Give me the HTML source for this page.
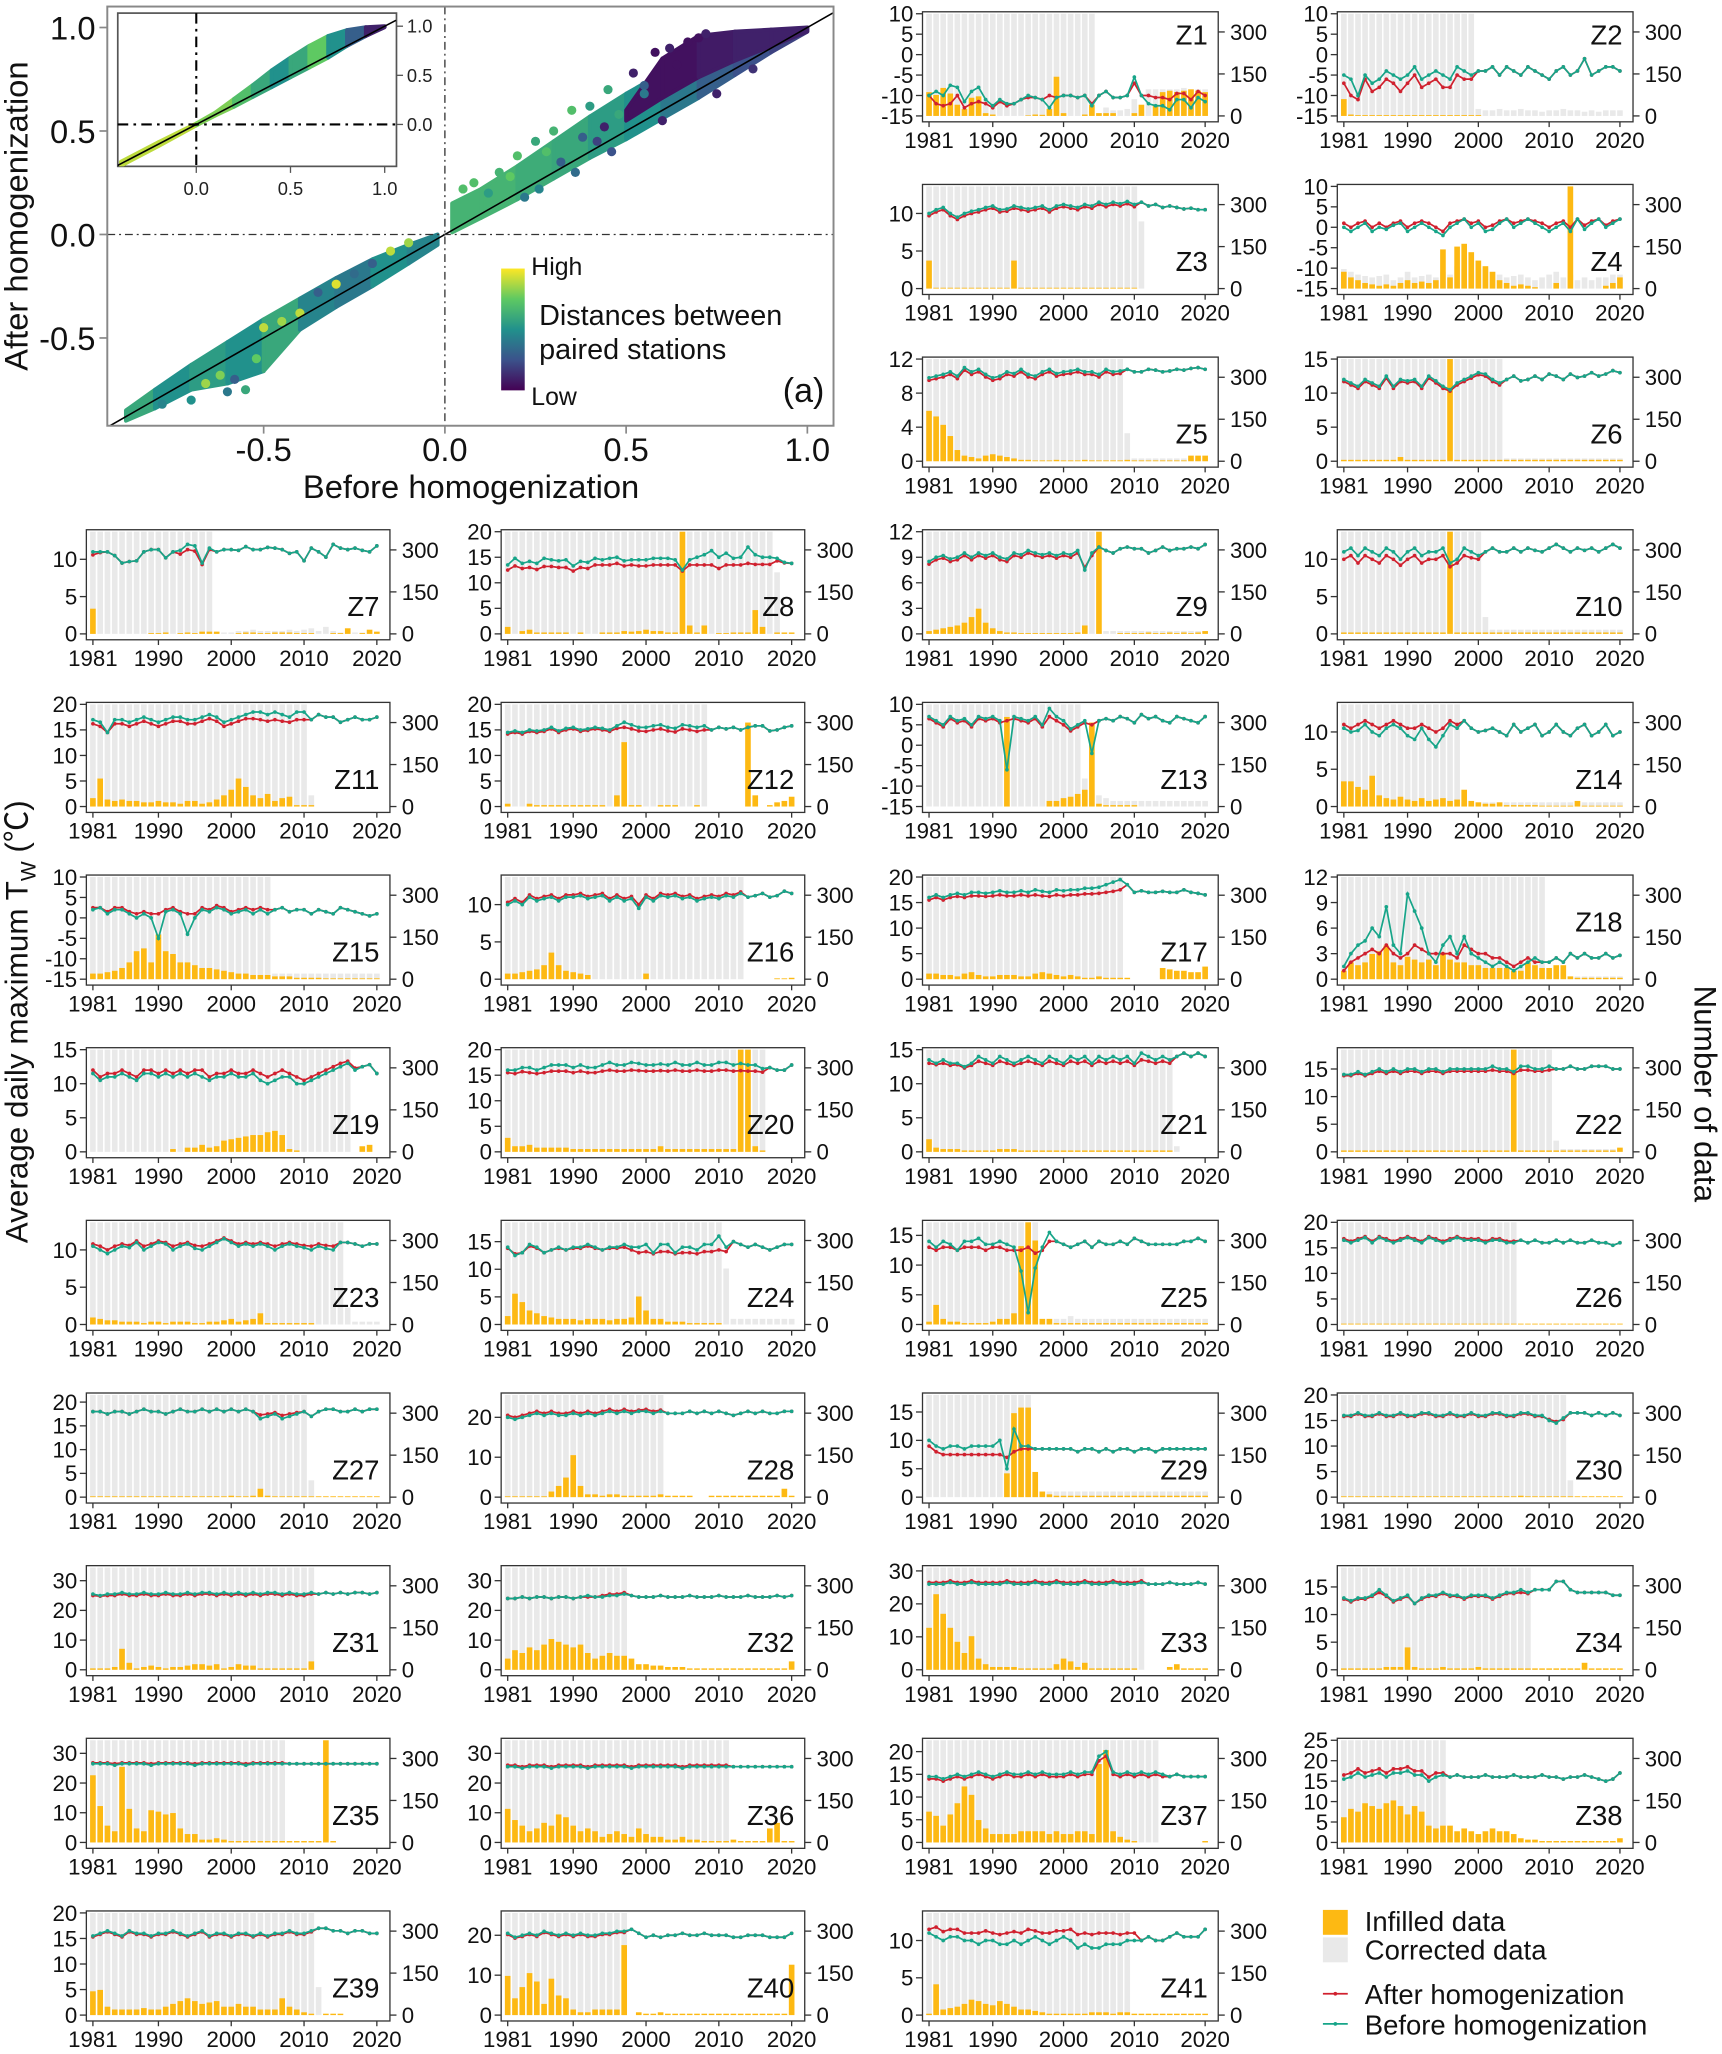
<!DOCTYPE html>
<html><head><meta charset="utf-8"><title>Homogenization figure</title>
<style>
html,body{margin:0;padding:0;background:#fff;}
svg{display:block;font-family:"Liberation Sans","Noto Sans CJK SC",sans-serif;}
</style></head>
<body>
<svg id="fig" xmlns="http://www.w3.org/2000/svg" width="1722" height="2054" viewBox="0 0 1316 1568" preserveAspectRatio="none"></svg>
<script>
const F = 365;
const panelNames = ["Z1","Z2","Z3","Z4","Z5","Z6","Z7","Z8","Z9","Z10","Z11","Z12","Z13","Z14","Z15","Z16","Z17","Z18","Z19","Z20","Z21","Z22","Z23","Z24","Z25","Z26","Z27","Z28","Z29","Z30","Z31","Z32","Z33","Z34","Z35","Z36","Z37","Z38","Z39","Z40","Z41"];
const yMin = [-15,-15,0,-15,0,0,0,0,0,0,0,0,-15,0,-15,0,0,0,0,0,0,0,0,0,0,0,0,0,0,0,0,0,0,0,0,0,0,0,0,0,0];
const yMax = [10,10,13.6,10,12,15,13.7,20,12,13.7,20,20,10,13.7,10,13.7,20,12,15,20,15,18.5,13.7,18.5,17.2,20,21.5,25.6,18,20,34.4,34.4,31,18.5,34.4,34.4,22.5,25,20,25.6,13.7];
const yTicks = [
[-15,-10,-5,0,5,10],[-15,-10,-5,0,5,10],[0,5,10],[-15,-10,-5,0,5,10],[0,4,8,12],[0,5,10,15],
[0,5,10],[0,5,10,15,20],[0,3,6,9,12],[0,5,10],
[0,5,10,15,20],[0,5,10,15,20],[-15,-10,-5,0,5,10],[0,5,10],
[-15,-10,-5,0,5,10],[0,5,10],[0,5,10,15,20],[0,3,6,9,12],
[0,5,10,15],[0,5,10,15,20],[0,5,10,15],[0,5,10,15],
[0,5,10],[0,5,10,15],[0,5,10,15],[0,5,10,15,20],
[0,5,10,15,20],[0,10,20],[0,5,10,15],[0,5,10,15,20],
[0,10,20,30],[0,10,20,30],[0,10,20,30],[0,5,10,15],
[0,10,20,30],[0,10,20,30],[0,5,10,15,20],[0,5,10,15,20,25],
[0,5,10,15,20],[0,10,20],[0,5,10]];
const countTicks = [0,150,300];
const yearTicks = [1981,1990,2000,2010,2020];

// before-homogenization series (green)
const beforeVals = [
[-10,-9,-10,-7.5,-8,-11.5,-9,-8,-11,-12.5,-11,-12,-12,-11,-10,-10.5,-11,-13,-10.5,-10,-10,-10.5,-10,-12.5,-10,-9,-10.5,-10.5,-10,-5.5,-10,-12,-12.5,-12.5,-13.5,-11,-11,-13,-10.5,-11.5],
[-5,-6,-10,-5,-7,-6,-4,-5,-6,-5,-3,-6,-5,-4,-5,-6,-3,-4,-5,-4,-4,-3,-5,-3,-4,-5,-3,-4,-5,-6,-4,-3,-5,-4,-1,-5,-4,-3,-3,-4],
[10,10.5,10.8,10,9.5,10,10.3,10.5,10.8,11,10.5,10.6,11,10.8,10.6,10.8,11,10.5,11,11.2,11,10.8,11.2,11,11.5,11.2,11.5,11.3,11.6,11.2,11.5,11,11.2,10.8,11,10.8,10.6,10.7,10.5,10.5],
[0,-1,0,1,-1,0,-0.5,0.5,1,-1,0,1,0,-1,-2,0,1,2,0,1,-1,-0.5,1,2,0,1,2,1,0,-1,0,1,-1,2,-0.5,1,2,0,1,2],
[9.8,10,10.2,10.5,10,11,10.5,10.8,10.2,9.8,10,10.5,10.3,10.8,10.2,10,10.5,10.8,10.3,10.5,10.6,10.8,10.5,10.5,10.2,10.8,10.5,10.6,10.8,10.5,10.5,10.8,10.7,10.5,10.6,10.8,10.7,10.9,11,10.8],
[12,11.5,11,12,11.5,11,12.5,11,12,11.8,12,11,12.5,11.8,11,10.5,11.5,12,12.5,13,12.8,12,11.5,12,12.5,11.8,12,12.5,12,12.8,12.5,12,12.8,12.3,12.5,13,12.5,12.8,13.3,13],
[11,11,11,10.5,9.5,9.7,9.8,11,11.3,11.3,10.2,11,11.2,12,11.8,9.5,11.5,11,11.3,11.3,11.2,11.7,11.3,11.3,11.6,11.5,11.3,10.8,11,9.8,11.5,11,10.3,12,11.5,11.3,11.5,11.2,11,11.8],
[13.5,14.8,13.8,14.2,13.8,14.8,14.5,14.3,14.5,13.3,14.2,14,14.8,14.5,14.8,15,14.3,14.5,14.5,14.5,14.8,14.8,14.8,14.5,12.5,14.5,15,15.5,16.3,15,15.8,14.8,15,17,15.5,15,15,14.8,14,13.8],
[8.5,9,9.2,8.8,9,9.5,9,9.5,9.2,9.5,9,8.8,9.5,9.3,9.8,9.5,9.3,9.5,9.2,9.5,9.3,9.8,7.5,9.5,10.2,9.8,9.5,10,10.2,10,10,9.5,9.8,10.2,9.8,10,10,10.2,10,10.5],
[11,11.5,10.5,11.5,11,10.5,11.5,11,10,11,11.5,10.5,11,11,11.5,9.5,10,11.5,11,10.5,11,11.5,11,11,11.5,11,11.5,11.2,11,11.5,12,11.5,11,11.5,11.2,11.5,11,11.5,12,11.5],
[17,16.5,14.5,17,17,16.5,17,17.5,17,16.5,17,17.5,17.5,17,17,17.5,18,17.5,16.5,17,17.5,18,18.5,18.5,18,18.5,18,17.5,18.5,18.5,17,18,17.5,17.5,16.5,17,17.5,17,17,17.5],
[14.5,14.8,14.5,15,14.8,15,15.5,14.8,15.3,15.5,15,15.2,15.5,15.3,15,15.8,16.5,16,15.5,15.5,15.8,16,15.5,15.3,16,15.8,15.5,15.8,15,15.5,15.2,15.5,15,15.5,15.8,15.8,14.8,15,15.5,15.8],
[7,6,5,7,6,6.5,5,7,6.5,7,6,-6,7,6.5,6,7,5,9,7,6,4,5,6,-2,6,6.5,6,7,6.5,5.5,7.5,6.5,7,6,5.5,7,6.5,6,5.5,7],
[10.5,10,10.2,11,10,9.5,10.5,11,10.5,9.5,9,10.5,9,8,9.5,11,10.5,11.5,10.5,10,10.2,10.5,10,9.5,11,10,10.5,11,9.5,10,11,10,9.5,10.5,11,9.5,10,11,9.5,10],
[2,2.5,1,2,2,1,0,1,0,-5,1.5,2,1,-4,0,2,1.5,2.5,2,1,1.5,2,1,2,1,2,2.5,1.5,2,2,1,2,1.5,1,2.5,2,1.5,1,0.5,1],
[10,10.5,10,11,10.5,10.8,11,10.5,11,11,11.2,10.8,11,11.2,10.5,11,10.5,10.8,9.5,11,10.5,11.2,11,11.2,10.8,11,10.5,10.8,11,10.8,11.2,11,11.5,11,11.2,11.5,11,11.2,11.8,11.5],
[16,16.5,16,16.5,16.8,16.5,17,17,16.8,17,17.3,17,17,17.3,17,17.5,17.2,17,17.5,17.3,17.5,17.5,17.8,17.8,18,18.5,19,19.5,18.5,17,17.3,17,17,17.2,17,17,17.5,17,16.8,16.5],
[1.5,3,4,4.5,6,5,8.5,4,3,10,8,6,3,2,4,5,3,5,3,2.5,2,1.5,2,1.5,1,1.5,2,2.5,2,2,2.5,2,3,2.5,3,2.5,2.5,3,2.5,2.8],
[11.5,10.5,11,11,11.5,11,10.5,11.5,11.5,11,11.5,11,11.5,11,11.5,11,10.5,11,11,11.5,11,11,11.5,10.5,10,10.5,11,11,10,10,10.5,11,11.5,12,12.5,13,12,12.5,12.8,11.5],
[16,16,16.5,16.5,16,16.5,17,17,17,16.5,17,16.5,16.5,17,17.5,17,17,17.5,17.3,17,17,17.2,17,17.5,17,17,17.5,17,17,17.5,17.5,17,17.3,17,17,16.3,16.5,16,16,17],
[13.5,13,13.5,13,13,12.5,13,14,13.5,13,14,13.5,13,13.5,14,13.5,13,14,13.5,13,14,13.5,14,13,14,13.5,14,13.5,14,13,14.5,14,13.5,14,13.5,14,14.5,14,14.5,14],
[14,14,14.5,14,14.5,15,14.5,15,14.5,15,15,14.5,15,15,14.5,15,15,15,15,15,15,15.5,15,15,14.5,15.5,15.5,15,15,15.5,15,15,15.5,15,15,15.5,15.5,15.5,15,15],
[10.5,10,9.5,10,10.5,10.3,11,10,10.5,11,10.8,10,10.5,10.8,10.2,10,10.5,11,11.5,11,10.5,10.8,10.5,10.8,10.5,10,10.5,10.8,10.5,10.3,10,10.5,10.2,10,11,11,10.8,10.5,10.8,10.8],
[14,12.5,13,14.5,14,13,13.5,14,13.5,14,14,14.5,14,13.5,14,14,14.5,14,14,14.5,13,14.5,14.5,13,14,14,13.5,14.5,14.5,16,14,15,14.5,14,14.5,14,13.5,14,14.5,14.5],
[14,13,14,13.5,12.5,14,14,14.5,13.5,13.5,14,13.5,13,9,2,9.5,13,15.5,14,13.5,13,13.5,14,13,14,13.5,13.5,14,13.5,14.5,14,13.5,13.5,13.5,13.5,13.5,14,14,14.5,14],
[16.5,16,16.5,17,16,17,16.5,16,16.5,17,16.5,16,17,16.5,16,16.5,17,16.5,16.5,16.5,16,16.5,16.5,16,16,16.5,16,16.5,16,16,16.5,16,16.5,16,16,16.5,16,16,15.5,16],
[18,18,17.5,18,18,17.5,18,18.5,18,18,17.5,18,18.5,18,18,18.5,18,18.5,18,18.5,18,18.5,18,16.5,17,17.5,16.5,17,17.5,18,17,18,18.5,18.5,18,18,18.5,18,18.5,18.5],
[20,19.5,20,20.5,21,20.5,21,20.5,20.5,21,20.5,21,20.5,21,21.5,21,21.5,21,21.5,21.5,21,21.5,21,21,21,21.5,21,21.5,21,21.5,21,20.5,21,21.5,21,21.5,21,21,21.5,21.5],
[10,9,8.5,9,9,8.5,9,9,9,9,10,5,12,9,9,8.5,8.5,8.5,8.5,8.5,8.5,8,8.5,8.5,8,8.5,8,8.5,8.5,8,8.5,8.5,8,8.5,8.5,8.5,8.5,8.5,8.5,8.5],
[16,16,16.5,16,16,16.5,16,16,16.5,16,16,16.5,16.5,16,16,16.5,16,16,16.5,16,16,16.5,16.5,16,16,16.5,16.5,16,16,15,14.5,15.5,16.5,16.5,16.5,16,16.5,16,16.5,16],
[25.5,25,25.5,25.5,26,25.5,25.5,26,25.5,25.5,26,25.5,25.5,26,25.5,26,26,25.5,26,25.5,26,25.5,26,25.5,26,26,25.5,26,25.5,25.5,26,25.5,26,25.5,26,25.5,26,26,25.5,26],
[24,24,24.5,24,24.5,24.5,24,24.5,24.5,24,24.5,25,24.5,24.5,25,25,25.5,25,24.5,24.5,24.5,25,24.5,24.5,24.5,25,24.5,24.5,24.5,25,24.5,24.5,24.5,25,24.5,24.5,24.5,25,24.5,25],
[26,26,26,26.5,26,26,26.5,26,26,26,26,26.5,26,26,26,26.5,26,26,26.5,26,26,26,26.5,26,26,26,26.5,26,26,26,26.5,26,26,26,26.5,26,26,26,26.5,26],
[13,12.5,13,13,13.5,14.5,13.5,12.5,13,13.5,12,13,13.5,13.5,14,13.5,13.5,13,13.5,13.5,13.5,13,13.5,14,14,14.5,14,14.5,14.5,14.5,16,16,14.5,14,14,14,14,14,13.5,13.5],
[26.5,26.5,26.5,26,26.5,26.5,26.5,26.5,26,26.5,26.5,26.5,26.5,26.5,26,26.5,26.5,26.5,26.5,26.5,26.5,26,26.5,26.5,26.5,26.5,26.5,26.5,26.5,26.5,26.5,26.5,26.5,26.5,26.5,26.5,26.5,26.5,26.5,26.5],
[25.5,25.5,25,25.5,25.5,25.5,25,25.5,25.5,25.5,25.5,25,25.5,25.5,25.5,25.5,25.5,25,25.5,25.5,25.5,25.5,25.5,25.5,25,25.5,25.5,25.5,25.5,25.5,25.5,25.5,25.5,25.5,25.5,25.5,25.5,25.5,25.5,25.5],
[14.5,14.5,14,14.5,15,14.5,15,15.5,15,14.5,15,15.5,15,15,15.5,15,15.5,15,15,15,15.5,15,15.5,15.5,19,20,15.5,15,15.5,15,15.5,15,15.5,15,14.5,15,14.5,14.5,14.5,14.5],
[15.5,16,17,16,16.5,17,16,17,17,17.5,16.5,16.5,15,16,16.5,16,16.5,16,16,16,16.5,16,16,16,16.5,16,16,16,16.5,16,16,15.5,16,16,16.5,16,15.5,15,15.5,17],
[15.5,16,16.5,16,15.5,16.5,16,16,15.5,16,16,16.5,16,15.5,16,16.5,15.5,16,16,15.5,16,16,15.5,16,15.5,16,16,16.5,16,16,16.5,17,17,16.5,16.5,16,16.5,16.5,16,16],
[20.5,19.5,20,20.5,20,21,20.5,20,20.5,20,20.5,20,20,20.5,20.5,21,21,21.5,20.5,19.5,20,19.5,20,20,20.5,20,20,20.5,20,20,20,19.5,19.5,20,20,20,19.5,19.5,19.5,20.5],
[11,10.5,10,10.5,10.5,10,10,9.5,10,10,9.5,9.5,10,9.5,10,10.5,10,9.5,10,10.5,10,9,9.5,9,9,9.5,9.5,9.5,10,10,10,10.5,10,10,10.5,11,10.5,10.5,10.5,11.5]];

// after-homogenization series (red); years beyond the listed values coincide with the before series
const afterVals = [
[-10,-12,-12.5,-12,-10,-13,-12,-11.5,-12,-13,-11.5,-12.5,-12,-11,-10.5,-10.5,-11,-10,-10.5,-10,-10,-10.5,-10,-12,-10,-9,-10.5,-10.5,-10,-7,-10,-10,-10.5,-10.5,-11,-9.5,-9.5,-11,-9,-10],
[-7,-10,-11,-6,-9,-8,-6,-7,-9,-7,-5,-8,-7,-6,-8,-8,-5,-6,-6,-4],
[9.7,10.2,10.5,9.7,9.2,9.7,10,10.2,10.5,10.7,10.2,10.3,10.7,10.5,10.3,10.5,10.7,10.2,10.7,10.9,10.7,10.5,10.9,10.7,11.2,10.9,11.2,11,11.3,10.9],
[1,0,1,1.5,0,1,0,1,1.5,0,1,1.5,1,0,-1,1,1.5,2,1,1.5,0,0.5,1.5,2,1,1.5,2,1.5,1,0,1,1.5,0,2,0.5,1.5,2,0.5,1.5,2],
[9.5,9.7,9.9,10.2,9.7,10.7,10.2,10.5,9.9,9.5,9.7,10.2,10,10.5,9.9,9.7,10.2,10.5,10,10.2,10.3,10.5,10.2,10.2,9.9,10.5,10.2,10.3],
[11.7,11.2,10.7,11.7,11.2,10.7,12.2,10.7,11.7,11.5,11.7,10.7,12.2,11.5,10.7,10.3,11.2,11.7,12.2,12.7,12.5,11.7,11.2],
[10.6,10.9,11,10.5,9.5,9.7,9.8,11,11.3,11.3,10.2,11,10.7,11.3,11.1,9.3,11.3],
[12.5,13.3,12.8,13,12.6,13.2,13.2,13,13,12.3,13,12.8,13.5,13.5,13.5,13.8,13.3,13.5,13.3,13.3,13.5,13.5,13.5,13.5,12.3,13.5,13.5,13.5,13.5,12.8,13.5,13.5,13.5,13.8,13.6,13.6,13.6,14.3,13.9,13.8],
[8.2,8.7,8.9,8.5,8.7,9.2,8.7,9.2,8.9,9.2,8.7,8.5,9.2,9,9.5,9.2,9,9.2,8.9,9.2,9,9.5,7.8,9.2],
[10,10.5,9.5,10.5,10,9.5,10.5,10,9.2,10,10.5,9.5,10,10,10.5,9,9.5,10.5,10.2,10],
[16.2,15.7,14.5,16.2,16.2,15.7,16.2,16.7,16.2,15.7,16.2,16.7,16.7,16.2,16.2,16.7,17.2,16.7,15.7,16.2,16.7,17.2,17.2,17,16.7,17,16.7,16.5,17,17],
[14.2,14.5,14.2,14.7,14.5,14.7,15.2,14.5,15,15.2,14.7,14.9,15.2,15,14.7,15.3,15.5,15.2,14.8,14.7,15,15.2,14.8,14.6,15.2,15,14.7,15],
[6.5,5.5,4.5,6.5,5.5,6,4.5,6.5,6,6.5,5.5,6,6.5,6,5.5,6.5,4.5,7,6,5,3.5,4.5,5.5,5],
[11,10.5,11,11.5,11,10.5,11,11.5,11,10.5,10.5,11,10.5,10,10.5,11.5,11],
[2.5,2.5,1.5,2.5,2.5,1.5,1,1.5,1,1,2,2.5,1.5,1,1,2.5,2,3,2.5,1.5,2,2.5,2,2.5,2],
[10.3,10.8,10.3,11.3,10.8,11.1,11.3,10.8,11.3,11.3,11.5,11.1,11.3,11.5,10.8,11.3,10.8,11.1,10,11.3,10.8,11.5,11.3,11.5,11.1,11.3,10.8,11.1,11.3,11.1,11.5,11.3,11.7],
[15.5,16,15.5,16,16.2,16,16.3,16.3,16.2,16.3,16.5,16.3,16.3,16.5,16.3,16.5,16.3,16.2,16.5,16.3,16.5,16.5,16.7,16.7,16.8,17,17.2,17.5],
[1,2,2.5,3,3.5,3,4,3,2.5,3,4,3.5,3,3,3,3,2.5,4,3.5,3,3,2.5,2.5,2,1.5,2,2.5,2,2,2],
[12,11,11.5,11.5,12,11.5,11,12,12,11.5,12,11.5,12,11.5,12,12,11,11.5,11.5,12,11.5,11.5,12,11.5,11,11.5,12,11.5,11,10.5,11,11.5,12,12.5,13,13.3,12.3],
[15.5,15.3,15.7,15.5,15.3,15.5,15.8,15.8,15.8,15.5,15.8,15.5,15.5,15.8,16,15.8,15.8,16,15.9,15.8,15.8,15.9,15.8,16,15.8,15.8,16,15.8,15.8,16,16,15.8,15.9,15.8,15.8,15.6],
[13,12.8,13,12.7,12.8,12.3,12.7,13.3,13,12.7,13.3,13,12.7,13,13.3,13,12.7,13.3,13,12.7,13.3,13,13.3,12.7,13.3,13,13.3,13,13.3,12.7,13.5,13.3,13,13.3,13],
[13.8,13.8,14.2,13.8,14.2,14.6,14.2,14.6,14.2,14.6,14.6,14.2,14.6,14.6,14.2,14.6,14.6,14.6,14.6,14.6,14.6,14.8,14.6,14.6,14.2,14.8,14.8,14.6,14.6,14.8],
[10.8,10.5,10,10.5,10.8,10.6,11.2,10.5,10.8,11.2,11,10.5,10.8,11,10.6,10.5,10.8,11.2,11.6,11.2,10.8,11,10.8,11,10.8,10.5,10.8,11,10.8,10.6,10.5,10.8,10.6,10.5,11],
[13.8,12.8,13,14.2,13.8,13,13.5,13.8,13.5,13.8,13.8,14.2,13.8,13.5,13.8,13.8,14,13.5,13,13.2,12.8,13.2,13.2,12.8,13,13,12.8,13.2,13.2,13.5,13.2],
[13,12.5,13,13,12.5,13,13,13,12.5,13,13,12.5,12.5,12.5,13,12,12.5,14],
[16.8,16.3,16.8,17.2,16.3,17.2,16.8,16.3,16.8,17.2,16.8,16.3,17.2,16.8,16.3,16.8,17.2,16.8,16.8,16.8,16.3,16.8,16.8,16.3,16.3],
[18,18,17.5,18,18,17.5,18,18.5,18,18,17.5,18,18.5,18,18,18.5,18,18.5,18,18.5,18,18.5,18,17.3,17.5,17.8,17.2,17.5,17.8,18],
[20.5,20,20.5,21,21.5,21,21.5,21,21,21.5,21,21.5,21,21.5,22,21.5,22,21.5,21.8,22,21.5,21.8],
[9,8,7.5,7.5,7.5,7.5,7.5,7.5,7.5,7.5,7.5,7,8,8.5,8.5,8.5],
[15.8,15.8,16.3,15.8,15.8,16.3,15.8,15.8,16.3,15.8,15.8,16.3,16.3,15.8,15.8,16.3,15.8,15.8,16.3,15.8,15.8,16.3,16.3,15.8,15.8,16.3,16.3,15.8,15.8,15.2,14.8,15.2],
[25,24.8,25,25,25.5,25,25,25.5,25,25,25.5,25,25,25.5,25,25.5,25.5,25,25.5,25,25.5,25,25.5,25,25.5,25.5,25,25.5,25,25,25.5],
[24,24,24.5,24,24.5,24.5,24,24.5,24.5,24,24.5,24.5,24.5,25,25.5,25.5,26],
[26.5,26.5,26.5,27,26.5,26.5,27,26.5,26.5,26.5,26.5,27,26.5,26.5,26.5,27,26.5,26.5,27,26.5,26.5,26.5,27,26.5,26.5,26.5,27,26.5,26.5,26.5,27],
[12.8,12.3,12.8,12.8,13.3,14,13.3,12.3,12.8,13.3,12,12.8,13.3,13.3,13.8,13.3,13.3,12.8,13.3,13.3,13.3,12.8,13.3,13.8,13.8,14,13.8],
[26.8,26.8,26.8,26.5,26.8,26.8,26.8,26.8,26.5,26.8,26.8,26.8,26.8,26.8,26.5,26.8,26.8,26.8,26.8,26.8,26.8,26.5,26.8,26.8,26.8,26.8,26.8],
[26,26,25.5,26,26,26,25.5,26,26,26,26,25.5,26,26,26,26,26,25.5,26,26,26,26,26,26,25.5,26,26,26,26,26,26],
[14,14,13.5,14,14.5,14,14.5,15,14.5,14,14.5,15,14.5,14.5,15,14.5,15,14.5,14.5,14.5,15,14.5,15,15,18,19,15,14.5,15,14.5,15,14.5,15,14.5],
[16.5,17,18,17,17.5,18,17,18,18,18.5,17.5,17.5,16,17,17],
[15.3,15.8,16.3,15.8,15.3,16.3,15.8,15.8,15.3,15.8,15.8,16.3,15.8,15.3,15.8,16.3,15.3,15.8,15.8,15.3,15.8,15.8,15.3,15.8,15.3,15.8,15.8,16.3,15.8,15.8,16.3],
[20.2,19.3,19.7,20.2,19.7,20.7,20.2,19.7,20.2,19.7,20.2,19.7,19.7,20.2,20.2,20.7,20.7],
[11.5,11.8,11.2,11.5,11.5,11,11,11,11.3,11,10.8,11,11.2,11,11.5,11.3,11,11,11.3,11.3,11.5,10.8,11,10.8,11,11,11,10.8,11,11]];

// infilled data counts (orange bars)
const infilled = [
[85,75,100,80,40,25,65,70,10,5,0,0,0,0,2,5,4,25,140,10,0,0,5,40,10,10,10,0,0,10,40,0,40,85,90,85,90,95,90,85],
[60,5,3,3,3,3,3,3,3,3,3,3,3,3,3,3,3,3,3,3,0,0,0,0,0,0,0,0,0,0,0,0,0,0,0,0,0,0,0,0],
[100,3,3,3,3,3,3,3,3,3,3,3,100,3,3,3,3,3,3,3,3,3,3,3,3,3,3,3,3,3,0,0,0,0,0,0,0,0,0,0],
[60,40,30,20,15,10,15,10,20,30,20,25,20,30,140,40,150,160,130,100,80,60,30,20,10,15,10,5,0,0,20,0,365,0,0,0,0,10,20,40],
[180,160,130,90,40,20,15,10,20,25,20,15,10,5,5,3,3,3,5,3,3,3,5,3,3,3,3,3,5,3,3,3,3,3,3,3,3,20,20,20],
[5,5,5,5,5,5,5,5,15,5,5,5,5,5,5,365,5,5,5,5,5,5,5,5,5,5,5,5,5,5,5,5,5,5,5,5,5,5,5,5],
[90,0,0,0,0,0,0,0,3,3,5,0,3,5,3,8,8,8,0,0,3,5,5,3,3,5,5,5,3,3,3,0,0,3,3,20,0,3,15,8],
[25,0,10,15,5,5,5,5,5,0,5,0,0,5,5,5,10,8,10,15,10,10,5,5,365,30,5,30,0,3,3,5,5,5,85,25,0,5,5,5],
[10,15,20,25,30,40,60,90,40,20,10,5,5,3,3,3,3,3,3,3,3,5,30,0,365,0,0,3,3,3,3,5,3,3,5,3,5,3,5,10],
[5,5,5,5,5,5,5,5,5,5,5,5,5,5,5,365,5,5,5,5,5,5,5,5,5,5,5,5,5,5,5,5,5,5,5,5,5,5,5,5],
[30,100,25,20,25,20,20,15,15,20,15,15,10,20,20,10,15,25,40,60,100,70,40,30,45,20,30,35,5,5,5,0,0,0,0,0,0,0,0,0],
[10,0,0,10,5,5,5,5,5,5,5,5,5,5,0,40,230,5,5,0,0,5,5,5,0,0,5,0,0,0,0,0,0,300,40,0,5,15,20,35],
[0,0,0,0,0,0,0,0,0,0,0,320,0,0,0,0,0,20,20,30,35,45,60,300,10,5,5,5,5,5,0,0,0,0,0,0,0,0,0,0],
[90,90,70,60,110,40,30,25,35,25,20,30,20,25,30,20,25,60,20,15,10,10,15,5,5,5,5,5,3,3,3,3,3,20,3,3,3,3,3,3],
[20,20,25,30,40,60,100,110,60,160,100,90,60,60,50,40,40,35,30,25,20,20,15,15,15,10,10,10,5,5,5,5,3,3,3,3,3,3,3,3],
[20,20,25,30,35,50,95,50,30,25,20,15,0,0,0,0,0,0,0,20,0,0,0,0,0,0,0,0,0,0,0,0,0,0,0,0,0,3,3,5],
[20,20,15,15,10,20,25,15,10,10,15,15,15,10,10,20,25,20,15,10,15,10,5,5,10,5,5,5,5,0,0,0,0,40,35,30,30,25,25,45],
[30,60,50,60,90,100,120,60,50,80,70,60,70,50,90,70,60,60,50,50,40,40,40,40,30,30,60,50,40,40,50,50,10,5,5,5,5,5,5,5],
[0,0,0,0,0,0,0,0,0,0,0,10,0,15,15,25,15,20,40,45,50,55,60,60,70,75,60,10,5,0,0,0,0,0,0,0,0,20,25,0],
[50,20,20,25,15,15,15,15,15,10,10,10,10,10,10,10,10,10,10,10,10,20,10,10,10,10,10,10,10,10,10,10,365,365,20,5,0,0,0,0],
[45,15,10,10,10,5,5,5,5,5,10,10,10,5,5,5,5,5,5,5,5,5,5,5,5,5,5,5,5,5,5,5,5,5,5,0,0,0,0,0],
[5,5,5,5,5,5,5,5,5,5,5,5,5,5,5,5,5,5,5,5,5,5,5,5,365,5,5,5,5,5,5,5,5,5,5,5,5,5,5,15],
[25,20,15,15,10,10,10,5,10,10,5,10,10,10,5,5,10,10,15,20,10,15,20,40,5,5,5,5,5,5,5,0,0,0,0,0,0,0,0,0],
[30,110,80,50,40,30,25,20,20,20,15,20,20,20,15,20,20,25,100,50,20,20,10,10,10,5,5,5,5,5,0,0,0,0,0,0,0,0,0,0],
[10,70,20,10,10,5,5,5,5,10,20,20,40,280,365,300,20,20,5,5,5,5,5,5,5,5,5,5,5,5,5,5,5,5,5,5,5,5,5,5],
[3,3,3,3,3,3,3,3,3,3,3,3,3,3,3,3,3,3,3,3,3,3,3,3,3,3,3,3,3,3,3,3,3,3,3,3,3,3,3,3],
[3,3,3,3,3,3,3,3,3,3,3,3,3,3,3,3,3,3,3,5,3,3,5,30,5,3,3,3,3,3,3,3,3,3,3,3,3,3,3,3],
[3,3,3,3,3,3,20,40,70,150,40,10,10,5,10,10,5,5,5,5,5,10,5,5,5,5,0,0,5,5,5,5,5,5,5,5,5,5,30,5],
[0,0,0,0,0,0,0,0,0,0,0,85,300,320,320,90,20,10,5,5,5,5,5,5,5,5,5,5,5,5,5,5,5,5,5,5,5,5,5,5],
[3,3,3,3,3,3,3,3,3,3,3,3,3,3,3,3,3,3,3,3,3,3,3,3,3,5,3,3,3,3,3,3,3,3,3,3,3,3,3,3],
[5,5,5,10,75,25,5,10,15,10,5,10,10,15,20,20,15,20,5,10,20,15,15,5,5,5,5,5,5,5,30,0,0,0,0,0,0,0,0,0],
[40,70,60,80,70,90,110,100,90,80,90,60,40,50,60,50,50,40,20,20,15,15,10,10,10,5,5,5,5,5,5,5,5,5,5,5,5,5,5,30],
[150,270,200,150,100,60,120,40,20,10,10,10,10,5,5,5,5,5,20,40,30,10,25,5,5,5,5,5,5,5,0,0,0,0,10,20,5,5,5,5],
[5,5,5,5,5,5,10,10,10,80,10,5,5,5,10,5,5,5,5,10,5,5,5,5,5,5,5,5,5,5,5,5,5,5,25,5,5,5,5,5],
[240,130,60,40,270,120,50,40,115,110,100,105,50,30,30,10,10,15,10,5,5,5,5,5,5,5,5,5,5,5,5,5,365,5,0,0,0,0,0,0],
[120,80,60,40,50,70,60,100,90,60,40,50,40,20,30,40,30,20,50,30,20,20,10,10,20,10,10,5,5,5,5,10,5,5,5,5,50,70,5,5],
[110,95,60,100,140,200,170,80,50,30,30,30,30,40,40,40,40,30,40,30,30,40,40,30,280,330,40,20,10,5,0,0,0,0,0,0,0,0,0,5],
[90,120,110,140,130,120,140,150,130,100,130,110,60,50,60,60,40,50,40,30,40,50,40,40,30,15,10,10,5,5,5,5,5,5,5,5,5,5,5,15],
[85,90,30,20,20,20,20,25,20,20,30,40,50,60,50,40,45,50,30,30,40,30,30,20,20,20,60,30,20,10,5,0,5,5,5,0,0,0,0,0],
[140,60,100,150,120,40,130,70,60,20,10,10,20,20,20,20,250,0,10,5,5,10,5,5,5,5,5,5,5,5,5,5,5,5,5,5,5,5,5,180],
[5,110,20,25,30,40,55,50,40,35,50,40,30,20,20,15,10,5,5,5,5,5,5,10,10,10,5,10,10,5,5,5,5,5,5,5,5,5,5,5]];

// corrected data counts (grey bars)
const corrected = [
[F,F,F,F,F,F,F,F,F,F,F,F,F,F,F,F,F,F,F,F,F,F,F,F,10,30,20,20,25,60,20,95,95,95,95,95,100,95,95,95],
[F,F,F,F,F,F,F,F,F,F,F,F,F,F,F,F,F,F,F,25,20,20,25,20,20,25,20,20,15,20,20,25,20,20,15,20,15,20,20,20],
[F,F,F,F,F,F,F,F,F,F,F,F,F,F,F,F,F,F,F,F,F,F,F,F,F,F,F,F,F,F,240,0,0,0,0,0,0,0,0,0],
[70,60,50,45,40,45,50,30,40,60,40,45,50,40,60,50,80,70,60,70,75,60,50,40,45,50,40,30,40,50,60,40,50,30,40,30,40,40,50,50],
[F,F,F,F,F,F,F,F,F,F,F,F,F,F,F,F,F,F,F,F,F,F,F,F,F,F,F,F,100,10,10,10,10,10,10,10,10,10,10,10],
[F,F,F,F,F,F,F,F,F,F,F,F,F,F,F,F,F,F,F,F,F,F,F,10,10,10,10,10,10,10,10,10,10,10,10,10,10,10,10,10],
[F,F,F,F,F,F,F,F,F,F,F,F,F,F,F,F,F,5,5,5,10,10,15,10,10,10,10,15,10,15,20,10,25,10,5,5,5,5,5],
[F,F,F,F,F,F,F,F,F,F,F,F,F,F,F,F,F,F,F,F,F,F,F,F,F,F,F,F,F,F,F,F,F,F,F,F,F,220,0,0],
[F,F,F,F,F,F,F,F,F,F,F,F,F,F,F,F,F,F,F,F,F,F,F,F,10,10,10,10,10,10,10,10,10,10,10,10,10,10,10,10],
[F,F,F,F,F,F,F,F,F,F,F,F,F,F,F,F,F,F,F,F,60,15,15,15,15,15,15,15,15,15,15,15,15,15,15,15,15,15,15,15],
[F,F,F,F,F,F,F,F,F,F,F,F,F,F,F,F,F,F,F,F,F,F,F,F,F,F,F,F,F,F,40,0,0,0,0,0,0,0,0,0],
[F,F,F,F,F,F,F,F,F,F,F,F,F,F,F,F,F,F,F,F,F,F,F,F,F,F,F,F,0,0,0,0,0,0,0,0,0,0,0,0],
[F,F,F,F,F,F,F,F,F,F,F,F,F,F,F,F,F,F,F,F,F,F,100,60,40,30,20,20,20,20,20,20,20,20,20,20,20,20,20,20],
[F,F,F,F,F,F,F,F,F,F,F,F,F,F,F,F,F,15,15,15,15,15,15,15,15,15,15,15,15,15,15,15,15,15,15,15,15,15,15,15],
[F,F,F,F,F,F,F,F,F,F,F,F,F,F,F,F,F,F,F,F,F,F,F,F,F,20,20,20,20,20,20,20,20,20,20,20,20,20,20,20],
[F,F,F,F,F,F,F,F,F,F,F,F,F,F,F,F,F,F,F,F,F,F,F,F,F,F,F,F,F,F,F,F,F,0,0,0,0,0,0,0],
[F,F,F,F,F,F,F,F,F,F,F,F,F,F,F,F,F,F,F,F,F,F,F,F,F,F,F,F,0,0,0,0,0,0,0,0,0,0,0,0],
[F,F,F,F,F,F,F,F,F,F,F,F,F,F,F,F,F,F,F,F,F,F,F,F,F,F,F,F,F,10,10,10,10,10,10,10,10,10,10,10],
[F,F,F,F,F,F,F,F,F,F,F,F,F,F,F,F,F,F,F,F,F,F,F,F,F,F,F,F,F,F,F,F,F,F,F,F,0,0,0,0],
[F,F,F,F,F,F,F,F,F,F,F,F,F,F,F,F,F,F,F,F,F,F,F,F,F,F,F,F,F,F,F,F,F,F,F,F,0,0,0,0],
[F,F,F,F,F,F,F,F,F,F,F,F,F,F,F,F,F,F,F,F,F,F,F,F,F,F,F,F,F,F,F,F,F,F,F,20,0,0,0,0],
[F,F,F,F,F,F,F,F,F,F,F,F,F,F,F,F,F,F,F,F,F,F,F,F,F,F,F,F,F,F,40,10,10,10,10,10,10,10,10,10],
[F,F,F,F,F,F,F,F,F,F,F,F,F,F,F,F,F,F,F,F,F,F,F,F,F,F,F,F,F,F,F,F,F,F,F,60,10,10,10,10],
[F,F,F,F,F,F,F,F,F,F,F,F,F,F,F,F,F,F,F,F,F,F,F,F,F,F,F,F,F,F,200,20,20,20,20,20,20,20,20,20],
[F,F,F,F,F,F,F,F,F,F,F,F,F,F,F,F,20,20,20,20,30,20,20,20,20,20,20,20,20,20,20,20,20,20,20,20,20,20,20,20],
[F,F,F,F,F,F,F,F,F,F,F,F,F,F,F,F,F,F,F,F,F,F,F,F,F,0,0,0,0,0,0,0,0,0,0,0,0,0,0,0],
[F,F,F,F,F,F,F,F,F,F,F,F,F,F,F,F,F,F,F,F,F,F,F,F,F,F,F,F,F,F,60,0,0,0,0,0,0,0,0,0],
[F,F,F,F,F,F,F,F,F,F,F,F,F,F,F,F,F,F,F,F,F,F,0,0,0,0,0,0,0,0,0,0,0,0,0,0,0,0,0,0],
[F,F,F,F,F,F,F,F,F,F,F,F,F,F,F,20,20,20,20,20,20,20,20,20,20,20,20,20,20,20,20,20,20,20,20,20,20,20,20,20],
[F,F,F,F,F,F,F,F,F,F,F,F,F,F,F,F,F,F,F,F,F,F,F,F,F,F,F,F,F,F,F,F,60,0,0,0,0,0,0,0],
[F,F,F,F,F,F,F,F,F,F,F,F,F,F,F,F,F,F,F,F,F,F,F,F,F,F,F,F,F,F,F,0,0,0,0,0,0,0,0,0],
[F,F,F,F,F,F,F,F,F,F,F,F,F,F,F,F,F,0,0,0,0,0,0,0,0,0,0,0,0,0,0,0,0,0,0,0,0,0,0,0],
[F,F,F,F,F,F,F,F,F,F,F,F,F,F,F,F,F,F,F,F,F,F,F,F,F,F,F,F,F,F,F,0,0,0,0,0,0,0,0,0],
[F,F,F,F,F,F,F,F,F,F,F,F,F,F,F,F,F,F,F,F,F,F,F,F,F,F,F,0,0,0,0,0,0,0,0,0,0,0,0,0],
[F,F,F,F,F,F,F,F,F,F,F,F,F,F,F,F,F,F,F,F,F,F,F,F,F,F,F,0,0,0,0,0,0,0,0,0,0,0,0,0],
[F,F,F,F,F,F,F,F,F,F,F,F,F,F,F,F,F,F,F,F,F,F,F,F,F,F,F,F,F,F,F,0,0,0,0,0,0,0,0,0],
[F,F,F,F,F,F,F,F,F,F,F,F,F,F,F,F,F,F,F,F,F,F,F,F,F,F,F,F,F,F,F,F,F,0,0,0,0,0,0,0],
[F,F,F,F,F,F,F,F,F,F,F,F,F,F,F,0,0,0,0,0,0,0,0,0,0,0,0,0,0,0,0,0,0,0,0,0,0,0,0,0],
[F,F,F,F,F,F,F,F,F,F,F,F,F,F,F,F,F,F,F,F,F,F,F,F,F,F,F,F,F,F,F,100,0,0,0,0,0,0,0,0],
[F,F,F,F,F,F,F,F,F,F,F,F,F,F,F,F,F,0,0,0,0,0,0,0,0,0,0,0,0,0,0,0,0,0,0,0,0,0,0,0],
[F,F,F,F,F,F,F,F,F,F,F,F,F,F,F,F,F,F,F,F,F,F,F,F,F,F,F,F,F,0,0,0,0,0,0,0,0,0,0,0]];

// scatter panel (a) data
const negBinX  = [-0.88,-0.8,-0.7,-0.6,-0.5,-0.4,-0.3,-0.2,-0.1,-0.02];
const negUpper = [-0.85,-0.75,-0.63,-0.52,-0.41,-0.31,-0.21,-0.12,-0.05,0.0];
const negLower = [-0.9,-0.84,-0.75,-0.72,-0.66,-0.46,-0.35,-0.25,-0.14,-0.05];
const negColor = [0.6,0.5,0.55,0.5,0.6,0.45,0.4,0.5,0.45,0.7];
const posBinX  = [0.02,0.1,0.2,0.3,0.4,0.5,0.6,0.7,0.8,0.9,1.0];
const posUpper = [0.15,0.22,0.33,0.45,0.57,0.68,0.78,0.86,0.92,0.97,1.0];
const posLower = [0.01,0.08,0.17,0.27,0.37,0.46,0.56,0.66,0.77,0.88,0.98];
const posColor = [0.65,0.65,0.62,0.6,0.55,0.5,0.4,0.3,0.25,0.2,0.1];
const purpX  = [0.5,0.6,0.7,0.8,0.9,1.0];
const purpUp = [0.6,0.85,0.96,0.98,0.99,1.0];
const purpLo = [0.55,0.66,0.76,0.84,0.91,0.98];
const ptX = [0.52,0.55,0.58,0.62,0.67,0.7,0.72,0.45,0.4,0.35,0.3,0.25,0.2,0.15,0.08,0.05,-0.55,-0.6,-0.62,-0.5,-0.45,-0.4,-0.7,-0.35,-0.25,-0.15,0.42,0.6,0.75,0.85,0.32,0.22,0.12,0.18,0.28,0.38,0.48,0.46,0.36,0.26,-0.66,-0.58,-0.52,-0.3,-0.2,-0.1,-0.78,0.64,0.55,0.44];
const ptY = [0.78,0.72,0.88,0.9,0.93,0.95,0.97,0.7,0.62,0.6,0.5,0.45,0.38,0.3,0.25,0.22,-0.75,-0.76,-0.68,-0.45,-0.42,-0.38,-0.8,-0.28,-0.19,-0.08,0.45,0.55,0.68,0.8,0.35,0.18,0.2,0.28,0.4,0.47,0.58,0.4,0.3,0.22,-0.72,-0.7,-0.6,-0.24,-0.14,-0.04,-0.82,0.82,0.68,0.52];
const ptC = [0.1,0.3,0.05,0.1,0.05,0.05,0.1,0.6,0.55,0.7,0.65,0.6,0.7,0.65,0.7,0.7,0.6,0.4,0.8,0.9,0.85,0.9,0.5,0.3,0.35,0.9,0.2,0.1,0.1,0.15,0.3,0.4,0.55,0.75,0.7,0.3,0.6,0.25,0.35,0.45,0.85,0.3,0.75,0.95,0.3,0.85,0.45,0.05,0.4,0.1];
const insetX  = [-0.4,-0.2,0,0.1,0.2,0.3,0.4,0.5,0.6,0.7,0.8,0.9,1.0];
const insetUp = [-0.38,-0.18,0.01,0.12,0.26,0.4,0.55,0.68,0.8,0.9,0.96,0.99,1.0];
const insetLo = [-0.42,-0.22,-0.01,0.09,0.18,0.28,0.38,0.48,0.58,0.68,0.8,0.9,0.99];
const insetC  = [0.9,0.9,0.8,0.8,0.7,0.6,0.5,0.6,0.75,0.5,0.3,0.1,0.05];
const mainXTicks = [-0.5,0.0,0.5,1.0];
const mainYTicks = [-0.5,0.0,0.5,1.0];
const insetTicks = [0.0,0.5,1.0];

const NS = 'http://www.w3.org/2000/svg';
const svg = document.getElementById('fig');
function mk(tag, attrs, parent){
  const e = document.createElementNS(NS, tag);
  for (const k in attrs) e.setAttribute(k, attrs[k]);
  (parent || svg).appendChild(e);
  return e;
}
function viridis(t){
  const stops = [[68,1,84],[59,82,139],[33,145,140],[94,201,98],[253,231,37]];
  t = Math.max(0, Math.min(1, t)) * 4;
  const i = Math.min(3, Math.floor(t)), f = t - i;
  const a = stops[i], b = stops[i+1];
  return 'rgb(' + a.map((v,j)=>Math.round(v+(b[j]-v)*f)).join(',') + ')';
}
const fmt = v => v.toFixed(1);

// ---------- panel (a) ----------
const A = mk('g', {});


const mx = v => 340 + v * 277;
const my = v => 179 - v * 158;
mk('rect', {x:82, y:5, width:555, height:320, fill:'#fff'}, A);
mk('defs', {}, A).innerHTML = '<clipPath id="mclip"><rect x="82" y="5" width="555" height="320"/></clipPath><clipPath id="iclip"><rect x="90" y="10" width="213" height="117"/></clipPath><linearGradient id="vgrad" x1="0" y1="1" x2="0" y2="0"><stop offset="0" stop-color="#440154"/><stop offset="0.25" stop-color="#3b528b"/><stop offset="0.5" stop-color="#21918c"/><stop offset="0.75" stop-color="#5ec962"/><stop offset="1" stop-color="#fde725"/></linearGradient>';
const mg = mk('g', {'clip-path':'url(#mclip)'}, A);
function band(xsArr, up, lo, col, sx, sy, g, name){
  for (let k = 0; k < xsArr.length - 1; k++){
    const p = [[sx(xsArr[k]),sy(up[k])],[sx(xsArr[k+1]),sy(up[k+1])],[sx(xsArr[k+1]),sy(lo[k+1])],[sx(xsArr[k]),sy(lo[k])]];
    const poly = mk('polygon', {points:p.map(q=>q.join(',')).join(' '), fill:viridis(col[k]), stroke:viridis(col[k]), 'stroke-width':3, 'stroke-linejoin':'round'}, g);
    
    
  }
}
band(negBinX, negUpper, negLower, negColor, mx, my, mg, 'scatter-band-negative');
band(posBinX, posUpper, posLower, posColor, mx, my, mg, 'scatter-band-positive');
band(purpX, purpUp, purpLo, [0.05,0.05,0.08,0.1,0.1,0.05], mx, my, mg, 'scatter-band-low-distance');
for (let k = 0; k < ptX.length; k++){
  const c = mk('circle', {cx:mx(ptX[k]), cy:my(ptY[k]), r:3.5, fill:viridis(ptC[k])}, mg);
  
  
}
const diag = mk('line', {x1:mx(-0.93), y1:my(-0.93), x2:mx(1.07), y2:my(1.07), stroke:'#000', 'stroke-width':1.2}, mg);


const vz = mk('line', {x1:mx(0), y1:5, x2:mx(0), y2:325, stroke:'#333', 'stroke-width':1, 'stroke-dasharray':'6,3,1.5,3'}, A);


const hz = mk('line', {x1:82, y1:my(0), x2:637, y2:my(0), stroke:'#333', 'stroke-width':1, 'stroke-dasharray':'6,3,1.5,3'}, A);


// inset
const ix = v => 150 + v * 144;
const iy = v => 95 - v * 75;
const ins = mk('g', {}, A);


mk('rect', {x:90, y:10, width:213, height:117, fill:'#fff', stroke:'#555', 'stroke-width':1.3}, ins);
const ig = mk('g', {'clip-path':'url(#iclip)'}, ins);
band(insetX, insetUp, insetLo, insetC, ix, iy, ig, 'inset-scatter-band');
mk('line', {x1:ix(-0.42), y1:iy(-0.42), x2:ix(1.06), y2:iy(1.06), stroke:'#000', 'stroke-width':1.2}, ig);
mk('line', {x1:ix(0), y1:10, x2:ix(0), y2:127, stroke:'#000', 'stroke-width':1.6, 'stroke-dasharray':'8,4,2,4'}, ins);
mk('line', {x1:90, y1:iy(0), x2:303, y2:iy(0), stroke:'#000', 'stroke-width':1.6, 'stroke-dasharray':'8,4,2,4'}, ins);
insetTicks.forEach(v => {
  mk('line', {x1:ix(v), y1:127, x2:ix(v), y2:132, stroke:'#555'}, ins);
  const t = mk('text', {x:ix(v), y:149, 'font-size':14, 'text-anchor':'middle', fill:'#222'}, ins);
  t.textContent = fmt(v);
  
  
  mk('line', {x1:303, y1:iy(v), x2:308, y2:iy(v), stroke:'#555'}, ins);
  const t2 = mk('text', {x:311, y:iy(v)+5, 'font-size':14, fill:'#222'}, ins);
  t2.textContent = fmt(v);
  
  
});
mk('rect', {x:82, y:5, width:555, height:320, fill:'none', stroke:'#888', 'stroke-width':1.5}, A);
mainXTicks.forEach(v => {
  mk('line', {x1:mx(v), y1:325, x2:mx(v), y2:331, stroke:'#888', 'stroke-width':1.3}, A);
  const t = mk('text', {x:mx(v), y:352, 'font-size':25, 'text-anchor':'middle', fill:'#111'}, A);
  t.textContent = fmt(v);
  
  
});
mainYTicks.forEach(v => {
  mk('line', {x1:76, y1:my(v), x2:82, y2:my(v), stroke:'#888', 'stroke-width':1.3}, A);
  const t = mk('text', {x:73, y:my(v)+9, 'font-size':25, 'text-anchor':'end', fill:'#111'}, A);
  t.textContent = fmt(v);
  
  
});
const xt = mk('text', {x:360, y:380, 'font-size':25, 'text-anchor':'middle', fill:'#111'}, A);
xt.textContent = 'Before homogenization';


const yt = mk('text', {x:0, y:0, 'font-size':25, 'text-anchor':'middle', fill:'#111', transform:'translate(21,165) rotate(-90)'}, A);
yt.textContent = 'After homogenization';


const cb = mk('rect', {x:383, y:205, width:18, height:93, fill:'url(#vgrad)'}, A);


[['High',406,210,19],['Low',406,309,19],['Distances between',412,248,22],['paired stations',412,274,22]].forEach(d => {
  const t = mk('text', {x:d[1], y:d[2], 'font-size':d[3], fill:'#111'}, A);
  t.textContent = d[0];
  
  
});
const pa = mk('text', {x:630, y:307, 'font-size':26, 'text-anchor':'end', fill:'#111'}, A);
pa.textContent = '(a)';



// ---------- small panels ----------
const colL = [66,383,705,1022];
const colW = [232,232,226,226];
function panelPos(i){
  if (i < 6) return [Math.floor(i/2), 2 + (i % 2)];
  const k = i - 6;
  return [3 + Math.floor(k/4), k % 4];
}
const labelDy = {0:17, 1:17, 17:35};
const RED = '#d0202e', GREEN = '#17a589', ORANGE = '#fdb913', GREY = '#e9e9e9';

function drawPanel(i){
  const pos = panelPos(i), r = pos[0], c = pos[1];
  const L = colL[c], W = colW[c], T = 9 + r * 131.8, H = 84;
  const g = mk('g', {});
  
  
  const yTop = T + 1.5, yBot = T + 79.5;
  const ys = v => yBot - (v - yMin[i]) / (yMax[i] - yMin[i]) * (yBot - yTop);
  const yc = n => yBot - n / 365 * (yBot - yTop);
  const xs = k => L + 5 + k * (W - 15) / 39;
  const bw = 4.3;
  corrected[i].forEach((n,k) => {
    if (n <= 0) return;
    const b = mk('rect', {x:xs(k)-bw/2, y:yc(n), width:bw, height:yBot-yc(n), fill:GREY}, g);
    
    
  });
  infilled[i].forEach((n,k) => {
    if (n <= 0) return;
    const b = mk('rect', {x:xs(k)-bw/2, y:yc(n), width:bw, height:yBot-yc(n), fill:ORANGE}, g);
    
    
  });
  const bef = beforeVals[i];
  const aft = bef.map((v,k) => k < afterVals[i].length ? afterVals[i][k] : v);
  [[aft, RED, 'after-homogenization-line'], [bef, GREEN, 'before-homogenization-line']].forEach(s => {
    const pts = s[0].map((v,k) => xs(k).toFixed(2) + ',' + ys(v).toFixed(2)).join(' ');
    const pl = mk('polyline', {points:pts, fill:'none', stroke:s[1], 'stroke-width':1.3}, g);
    
    
    s[0].forEach((v,k) => {
      const d = mk('circle', {cx:xs(k), cy:ys(v), r:1.4, fill:s[1]}, g);
      
      
    });
  });
  mk('rect', {x:L, y:T, width:W, height:H, fill:'none', stroke:'#333', 'stroke-width':1}, g);
  yTicks[i].forEach(v => {
    mk('line', {x1:L-5, y1:ys(v), x2:L, y2:ys(v), stroke:'#333'}, g);
    const t = mk('text', {x:L-7, y:ys(v)+6, 'font-size':17, 'text-anchor':'end', fill:'#111'}, g);
    t.textContent = v;
    
    
  });
  countTicks.forEach(v => {
    mk('line', {x1:L+W, y1:yc(v), x2:L+W+5, y2:yc(v), stroke:'#333'}, g);
    const t = mk('text', {x:L+W+9, y:yc(v)+6, 'font-size':17, fill:'#111'}, g);
    t.textContent = v;
    
    
  });
  yearTicks.forEach(y => {
    const x = xs(y - 1981);
    mk('line', {x1:x, y1:T+H, x2:x, y2:T+H+4, stroke:'#333'}, g);
    const t = mk('text', {x:x, y:T+H+20, 'font-size':17, 'text-anchor':'middle', fill:'#111'}, g);
    t.textContent = y;
    
    
  });
  const dy = (labelDy[i] !== undefined) ? labelDy[i] : 58;
  const lab = mk('text', {x:L+W-8, y:T+dy+8, 'font-size':21, 'text-anchor':'end', fill:'#111'}, g);
  lab.textContent = panelNames[i];
  
  
}
for (let i = 0; i < panelNames.length; i++) drawPanel(i);

// axis titles
const lt = mk('text', {x:0, y:0, 'font-size':24, 'text-anchor':'middle', fill:'#111', transform:'translate(21,780) rotate(-90)'});
lt.innerHTML = 'Average daily maximum T<tspan font-size="16" dy="6">W</tspan><tspan dy="-6"> (℃)</tspan>';


const rt = mk('text', {x:0, y:0, 'font-size':24, 'text-anchor':'middle', fill:'#111', transform:'translate(1295,835) rotate(90)'});
rt.textContent = 'Number of data';



// legend
const lg = mk('g', {});


const l1 = mk('rect', {x:1011, y:1458, width:19, height:19, fill:ORANGE}, lg);


const l2 = mk('rect', {x:1011, y:1479, width:19, height:19, fill:GREY}, lg);


mk('line', {x1:1011, y1:1522, x2:1030, y2:1522, stroke:RED, 'stroke-width':1.3}, lg);
mk('circle', {cx:1020.5, cy:1522, r:1.4, fill:RED}, lg);
mk('line', {x1:1011, y1:1545, x2:1030, y2:1545, stroke:GREEN, 'stroke-width':1.3}, lg);
mk('circle', {cx:1020.5, cy:1545, r:1.4, fill:GREEN}, lg);
[['Infilled data',1474],['Corrected data',1496],['After homogenization',1530],['Before homogenization',1553]].forEach(d => {
  const t = mk('text', {x:1043, y:d[1], 'font-size':21, fill:'#111'}, lg);
  t.textContent = d[0];
  
  
});
</script>
</body></html>
